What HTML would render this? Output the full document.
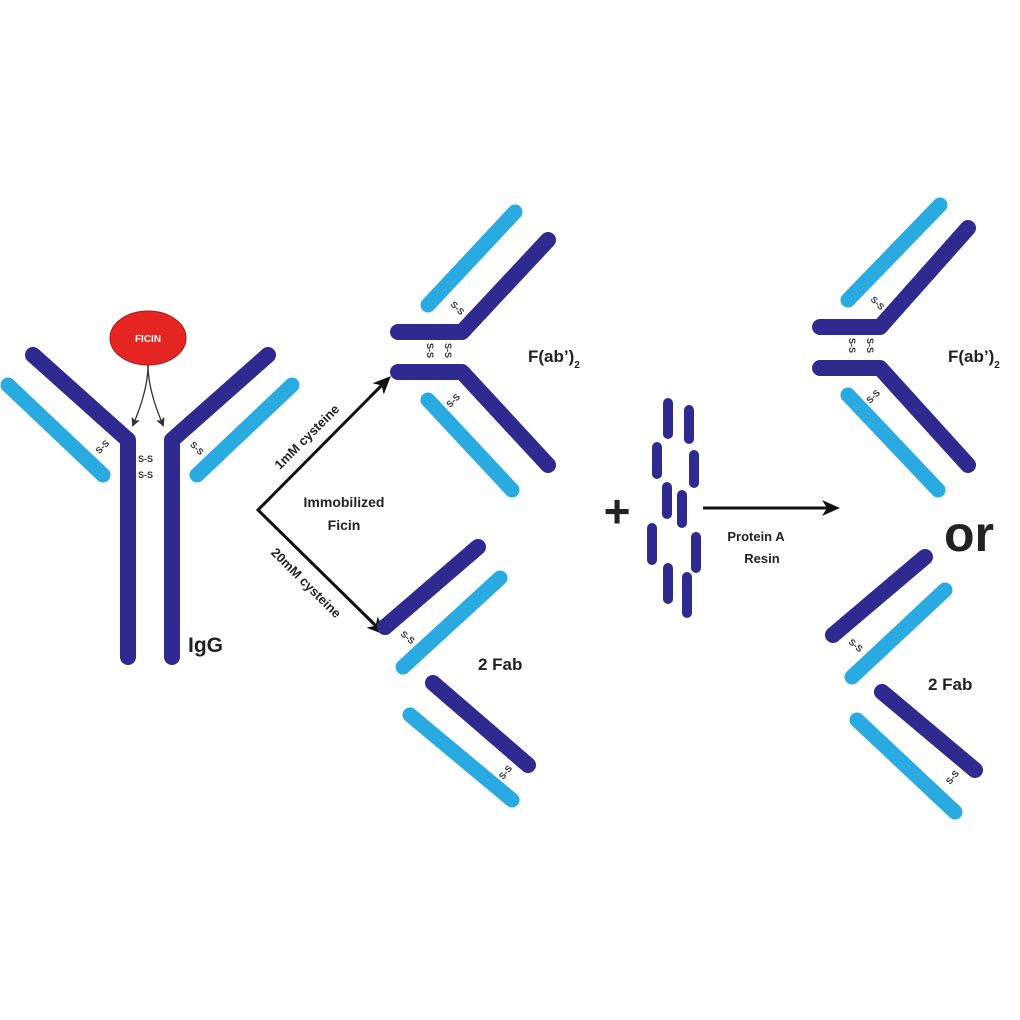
<!DOCTYPE html>
<html><head><style>
html,body{margin:0;padding:0;background:#fff;}
svg{display:block;}
text{font-family:"Liberation Sans",sans-serif;font-weight:bold;fill:#222;}
.d{stroke:#2e2a8f;stroke-width:16;fill:none;stroke-linecap:round;stroke-linejoin:round;}
.l{stroke:#29abe2;stroke-width:15;fill:none;stroke-linecap:round;}
.ss{font-size:9px;fill:#333;}
</style></head><body>
<svg width="1020" height="1020" viewBox="0 0 1020 1020">
<defs><marker id="ah" markerWidth="18" markerHeight="16" refX="14" refY="8" orient="auto" markerUnits="userSpaceOnUse"><path d="M0,0 L18,8 L0,16 L5,8z" fill="#111"/></marker>
<marker id="as" markerWidth="9" markerHeight="9" refX="7" refY="4.5" orient="auto" markerUnits="userSpaceOnUse"><path d="M0,0 L9,4.5 L0,9 L2,4.5z" fill="#333"/></marker></defs>
<!-- IgG -->
<polyline class="d" points="33,355 128,440 128,657"/>
<polyline class="d" points="268,355 172,440 172,657"/>
<line class="l" x1="8" y1="385" x2="103" y2="475"/>
<line class="l" x1="292" y1="385" x2="197" y2="475"/>
<ellipse cx="148" cy="338" rx="38" ry="27" fill="#e52521" stroke="#b01818"/>
<text x="148" y="342" font-size="10" text-anchor="middle" style="fill:#fff">FICIN</text>
<path d="M148,365 Q148,390 133,425" stroke="#333" stroke-width="1.3" fill="none" marker-end="url(#as)"/>
<path d="M148,365 Q148,390 163,425" stroke="#333" stroke-width="1.3" fill="none" marker-end="url(#as)"/>
<text x="138" y="462" class="ss">S-S</text><text x="138" y="478" class="ss">S-S</text>
<text x="95" y="452" class="ss" transform="rotate(-45 100 448)">S-S</text>
<text x="190" y="452" class="ss" transform="rotate(45 198 448)">S-S</text>
<text x="188" y="652" font-size="21">IgG</text>
<!-- branching arrows -->
<polyline points="380,387 258,510 374,624" fill="none" stroke="#111" stroke-width="3"/>
<line x1="370" y1="397" x2="388" y2="379" stroke="#111" stroke-width="3" marker-end="url(#ah)"/>
<line x1="364" y1="614" x2="382" y2="632" stroke="#111" stroke-width="3" marker-end="url(#ah)"/>
<text x="310" y="440" font-size="13" text-anchor="middle" transform="rotate(-45 310 440)">1mM cysteine</text>
<text x="303" y="586" font-size="13" text-anchor="middle" transform="rotate(45 303 586)">20mM cysteine</text>
<text x="344" y="507" font-size="14" text-anchor="middle">Immobilized</text>
<text x="344" y="530" font-size="14" text-anchor="middle">Ficin</text>
<!-- middle F(ab')2 -->
<polyline class="d" points="398,332 462,332 548,240"/>
<line class="l" x1="428" y1="305" x2="515" y2="212"/>
<polyline class="d" points="398,372 462,372 548,465"/>
<line class="l" x1="428" y1="400" x2="512" y2="490"/>
<text x="0" y="0" class="ss" transform="translate(427,343) rotate(90)">S-S</text>
<text x="0" y="0" class="ss" transform="translate(445,343) rotate(90)">S-S</text>
<text x="0" y="0" class="ss" transform="translate(450,305) rotate(45)">S-S</text>
<text x="0" y="0" class="ss" transform="translate(450,408) rotate(-45)">S-S</text>
<text x="528" y="362" font-size="17">F(ab’)<tspan font-size="10" dy="6">2</tspan></text>
<!-- middle Fab -->
<line class="d" x1="385" y1="627" x2="478" y2="547"/>
<line class="l" x1="403" y1="667" x2="500" y2="578"/>
<line class="d" x1="433" y1="683" x2="528" y2="765"/>
<line class="l" x1="410" y1="715" x2="512" y2="800"/>
<text x="0" y="0" class="ss" transform="translate(400,635) rotate(40)">S-S</text>
<text x="0" y="0" class="ss" transform="translate(503,780) rotate(-50)">S-S</text>
<text x="478" y="670" font-size="17">2 Fab</text>
<!-- plus, resin -->
<text x="617" y="527" font-size="46" text-anchor="middle">+</text>
<g fill="#2e2a8f">
<rect x="663" y="398" width="10" height="41" rx="5"/>
<rect x="684" y="405" width="10" height="39" rx="5"/>
<rect x="652" y="442" width="10" height="37" rx="5"/>
<rect x="689" y="450" width="10" height="38" rx="5"/>
<rect x="662" y="482" width="10" height="37" rx="5"/>
<rect x="677" y="490" width="10" height="38" rx="5"/>
<rect x="647" y="523" width="10" height="42" rx="5"/>
<rect x="691" y="532" width="10" height="41" rx="5"/>
<rect x="663" y="563" width="10" height="41" rx="5"/>
<rect x="682" y="572" width="10" height="46" rx="5"/>
</g>
<line x1="703" y1="508" x2="836" y2="508" stroke="#111" stroke-width="3" marker-end="url(#ah)"/>
<text x="756" y="541" font-size="13" text-anchor="middle">Protein A</text>
<text x="762" y="563" font-size="13" text-anchor="middle">Resin</text>
<!-- right F(ab')2 -->
<polyline class="d" points="820,327 880,327 968,228"/>
<line class="l" x1="848" y1="300" x2="940" y2="205"/>
<polyline class="d" points="820,368 880,368 968,465"/>
<line class="l" x1="848" y1="395" x2="938" y2="490"/>
<text x="0" y="0" class="ss" transform="translate(849,338) rotate(90)">S-S</text>
<text x="0" y="0" class="ss" transform="translate(867,338) rotate(90)">S-S</text>
<text x="0" y="0" class="ss" transform="translate(870,300) rotate(45)">S-S</text>
<text x="0" y="0" class="ss" transform="translate(870,404) rotate(-45)">S-S</text>
<text x="948" y="362" font-size="17">F(ab’)<tspan font-size="10" dy="6">2</tspan></text>
<text x="944" y="551" font-size="50">or</text>
<!-- right Fab -->
<line class="d" x1="833" y1="635" x2="925" y2="557"/>
<line class="l" x1="852" y1="677" x2="945" y2="590"/>
<line class="d" x1="882" y1="692" x2="975" y2="770"/>
<line class="l" x1="857" y1="720" x2="955" y2="812"/>
<text x="0" y="0" class="ss" transform="translate(848,643) rotate(40)">S-S</text>
<text x="0" y="0" class="ss" transform="translate(950,785) rotate(-50)">S-S</text>
<text x="928" y="690" font-size="17">2 Fab</text>
</svg>
</body></html>
